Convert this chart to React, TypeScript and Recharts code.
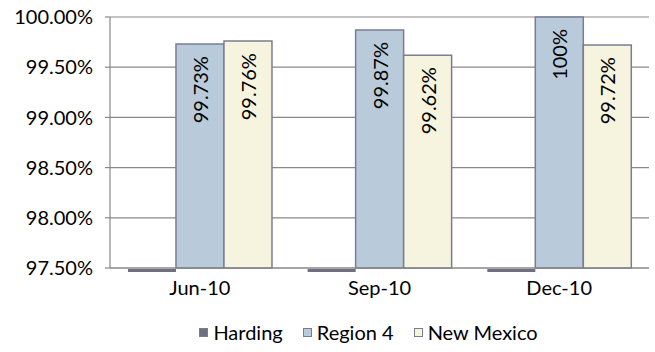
import React from "react";
import { BarChart, Bar, XAxis, YAxis, CartesianGrid, Legend, LabelList } from "recharts";

const categories = ["Jun-10", "Sep-10", "Dec-10"];
const harding = [97.5, 97.5, 97.5];
const region4 = [99.73, 99.87, 100];
const newMexico = [99.76, 99.62, 99.72];
const yTicks = [97.5, 98, 98.5, 99, 99.5, 100];

const SERIES = [
  { key: "Harding", fill: "#6e6f7f" },
  { key: "Region 4", fill: "#b9cbdb" },
  { key: "New Mexico", fill: "#f6f4de" },
];

const data = categories.map((c, i) => ({
  name: c,
  Harding: harding[i],
  "Region 4": region4[i],
  "New Mexico": newMexico[i],
}));

const FONT = "Lato, 'Open Sans', sans-serif";
const FS = 20;
const AXIS = "#888888";
const EDGE = "#7a7d92";

const fmt = (v: number) => `${Number(v.toFixed(2))}%`;

function VLabel(props: any) {
  const { x, y, width, value } = props;
  const cx = x + width / 2;
  const ty = y + 12;
  return (
    <text
      x={cx}
      y={ty}
      transform={`rotate(-90 ${cx} ${ty})`}
      textAnchor="end"
      dominantBaseline="central"
      fontFamily={FONT}
      fontSize={FS}
      fill="#000"
    >
      {fmt(value)}
    </text>
  );
}

// Harding sits at the axis floor: draw the thin sliver just under the baseline
function FloorBar(props: any) {
  const { x, y, width, height, fill } = props;
  return <rect x={x} y={y + height + 1} width={width} height={3} fill={fill} />;
}

function LegendContent() {
  return (
    <div
      style={{
        height: 45,
        boxSizing: "border-box",
        paddingTop: 23,
        paddingLeft: 88,
        lineHeight: "22px",
        display: "flex",
        justifyContent: "center",
        gap: 20,
        fontFamily: FONT,
        fontSize: FS,
        color: "#000",
      }}
    >
      {SERIES.map((s) => (
        <span key={s.key} style={{ display: "flex", alignItems: "center", gap: 5 }}>
          <span style={{ width: 7, height: 7, background: s.fill, border: `1px solid ${EDGE}`, display: "inline-block" }} />
          {s.key}
        </span>
      ))}
    </div>
  );
}

export default function App() {
  return (
    <div style={{ position: "absolute", left: 0, top: 0, background: "#fff" }}>
      <BarChart
        width={655}
        height={352}
        data={data}
        margin={{ top: 17, right: 6, bottom: 9, left: 0 }}
        barCategoryGap="10%"
        barGap={0}
      >
        <CartesianGrid vertical={false} stroke={AXIS} strokeWidth={1.2} />
        <XAxis
          dataKey="name"
          tick={{ fontFamily: FONT, fontSize: FS, fill: "#000" }}
          stroke={AXIS}
          strokeWidth={1.2}
          tickLine={false}
          tickMargin={7}
        />
        <YAxis
          width={110}
          domain={[97.5, 100]}
          ticks={yTicks}
          tickFormatter={(v: number) => `${v.toFixed(2)}%`}
          tick={{ fontFamily: FONT, fontSize: FS, fill: "#000" }}
          stroke={AXIS}
          strokeWidth={1.2}
          tickSize={5}
          tickMargin={12}
        />
        <Legend verticalAlign="bottom" height={45} content={<LegendContent />} />
        <Bar dataKey="Harding" fill={SERIES[0].fill} shape={<FloorBar />} isAnimationActive={false} />
        <Bar dataKey="Region 4" fill={SERIES[1].fill} stroke={EDGE} strokeWidth={1.5} isAnimationActive={false}>
          <LabelList dataKey="Region 4" content={<VLabel />} />
        </Bar>
        <Bar dataKey="New Mexico" fill={SERIES[2].fill} stroke={EDGE} strokeWidth={1.5} isAnimationActive={false}>
          <LabelList dataKey="New Mexico" content={<VLabel />} />
        </Bar>
      </BarChart>
    </div>
  );
}
